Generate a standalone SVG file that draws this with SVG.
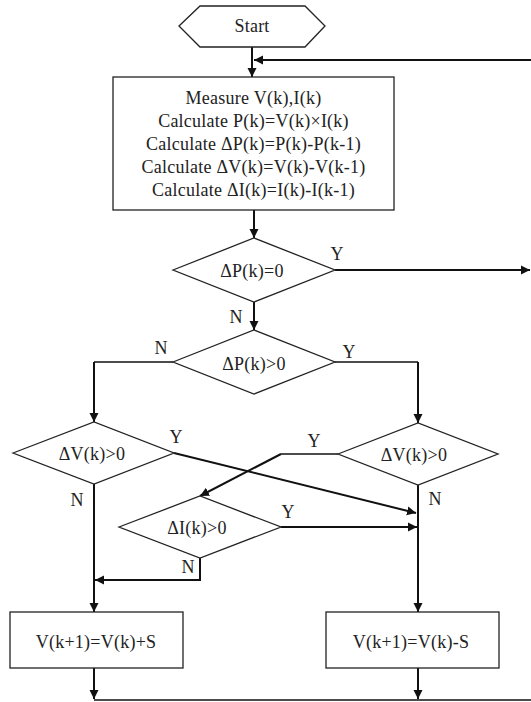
<svg xmlns="http://www.w3.org/2000/svg" width="531" height="702" viewBox="0 0 531 702">
<style>
.s{fill:#fff;stroke:#222;stroke-width:1.3}
.t{font-family:"Liberation Serif","Times New Roman",serif;font-size:18px;fill:#222;text-anchor:middle;letter-spacing:0.25px}
.c{fill:none;stroke:#111;stroke-width:2}
.th{fill:none;stroke:#111;stroke-width:1.4}
</style>
<defs>
<marker id="a" viewBox="0 0 10 10" refX="10" refY="5" markerWidth="9" markerHeight="11" markerUnits="userSpaceOnUse" orient="auto">
<path d="M0,0 L10,5 L0,10 z" fill="#111"/>
</marker>
</defs>
<rect width="531" height="702" fill="#fff"/>
<g id="connectors">
<path class="c" d="M252,47 V77" marker-end="url(#a)"/>
<path class="c" d="M531,60 H254" marker-end="url(#a)"/>
<path class="c" d="M254,210 V238" marker-end="url(#a)"/>
<path class="c" d="M335,270 H530" marker-end="url(#a)"/>
<path class="c" d="M254,302 V330" marker-end="url(#a)"/>
<path class="th" d="M173,362 H94"/>
<path class="c" d="M94,362 V422" marker-end="url(#a)"/>
<path class="th" d="M335,362 H418"/>
<path class="c" d="M418,362 V423" marker-end="url(#a)"/>
<path class="c" d="M174,453 L416,513" marker-end="url(#a)"/>
<path class="th" d="M338,454 H281"/>
<path class="c" d="M281,454 L200,496" marker-end="url(#a)"/>
<path class="c" d="M281,527 H417" marker-end="url(#a)"/>
<path class="c" d="M200,558 V580 H95" marker-end="url(#a)"/>
<path class="c" d="M94,484 V612" marker-end="url(#a)"/>
<path class="c" d="M418,485 V612" marker-end="url(#a)"/>
<path class="c" d="M94,668 V699" marker-end="url(#a)"/>
<path class="c" d="M418,668 V699" marker-end="url(#a)"/>
<path class="th" d="M94,700 H531"/>
</g>
<g id="start">
<polygon class="s" points="179,26 200,6 305,6 325,26 305,47 200,47"/>
<text class="t" x="252" y="32">Start</text>
</g>
<g id="measure">
<rect class="s" x="113" y="77" width="281" height="133"/>
<text class="t" x="253.5" y="104">Measure V(k),I(k)</text>
<text class="t" x="253.5" y="127">Calculate P(k)=V(k)×I(k)</text>
<text class="t" x="253.5" y="150">Calculate ΔP(k)=P(k)-P(k-1)</text>
<text class="t" x="253.5" y="173">Calculate ΔV(k)=V(k)-V(k-1)</text>
<text class="t" x="253.5" y="196">Calculate ΔI(k)=I(k)-I(k-1)</text>
</g>
<g id="d1">
<polygon class="s" points="173,270 254,238 335,270 254,302"/>
<text class="t" x="252" y="277">ΔP(k)=0</text>
<text class="t" x="337" y="260">Y</text>
<text class="t" x="236" y="323">N</text>
</g>
<g id="d2">
<polygon class="s" points="173,362 254,330 335,362 254,394"/>
<text class="t" x="254" y="370">ΔP(k)&gt;0</text>
<text class="t" x="161" y="354">N</text>
<text class="t" x="349" y="358">Y</text>
</g>
<g id="d3">
<polygon class="s" points="13,453 94,422 174,453 94,484"/>
<text class="t" x="92" y="460">ΔV(k)&gt;0</text>
<text class="t" x="176" y="443">Y</text>
<text class="t" x="77" y="506">N</text>
</g>
<g id="d4">
<polygon class="s" points="338,454 418,423 498,454 418,485"/>
<text class="t" x="414" y="461">ΔV(k)&gt;0</text>
<text class="t" x="314" y="447">Y</text>
<text class="t" x="435" y="505">N</text>
</g>
<g id="d5">
<polygon class="s" points="119,527 200,496 281,527 200,558"/>
<text class="t" x="197" y="534">ΔI(k)&gt;0</text>
<text class="t" x="288" y="518">Y</text>
<text class="t" x="188" y="573">N</text>
</g>
<g id="inc">
<rect class="s" x="10" y="612" width="173" height="56"/>
<text class="t" x="96" y="648">V(k+1)=V(k)+S</text>
</g>
<g id="dec">
<rect class="s" x="326" y="612" width="173" height="56"/>
<text class="t" x="411" y="648">V(k+1)=V(k)-S</text>
</g>
</svg>
